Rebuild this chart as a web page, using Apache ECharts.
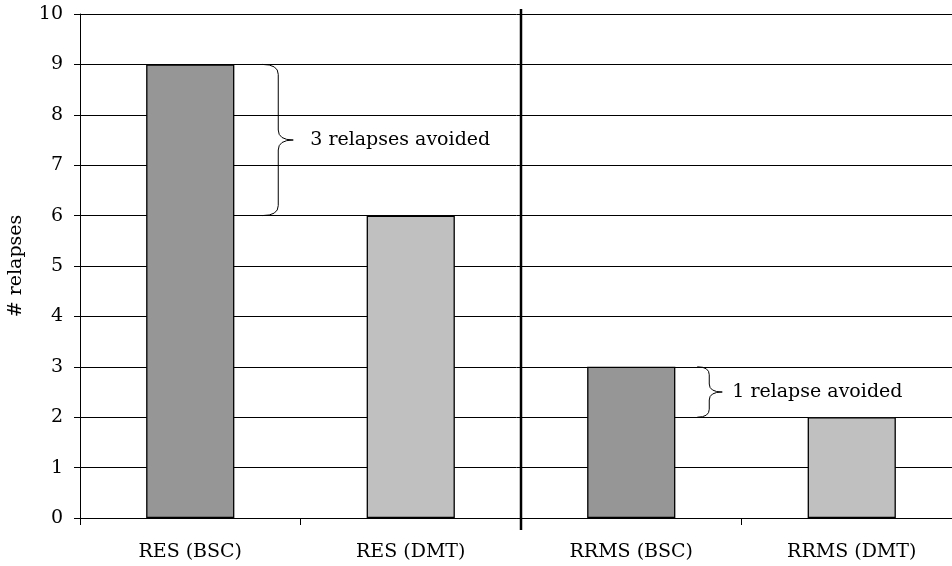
<!DOCTYPE html>
<html>
<head>
<meta charset="utf-8">
<script src="https://cdn.jsdelivr.net/npm/echarts@6/dist/echarts.min.js"></script>
<style>
  html, body { margin: 0; padding: 0; background: #fff; }
  #chart { width: 952px; height: 566px; }
</style>
</head>
<body>
<div id="chart"></div>
<script>
// Relapse counts per cohort and treatment
const categories = ['RES (BSC)', 'RES (DMT)', 'RRMS (BSC)', 'RRMS (DMT)'];
const relapses = [9, 6, 3, 2];
const yMin = 0;
const yMax = 10;
const yInterval = 1;

// Pairs compared by a brace: [BSC index, DMT index]
const comparisons = [[0, 1], [2, 3]];

// Brace placement (pixel offsets from the BSC category centre)
const braceStyle = [
  { offset: 72, depth: 16, tip: 15, radius: 10, textGap: 17 },
  { offset: 66, depth: 12, tip: 13, radius: 8, textGap: 10 }
];

const FONT = '"DejaVu Serif", serif';
const FONT_SIZE = 19;
const barColors = ['#969696', '#c0c0c0', '#969696', '#c0c0c0'];

const braceData = comparisons.map(([a, b]) => [a, relapses[a], relapses[b]]);

function avoidedText(top, bottom) {
  const d = top - bottom;
  return d + (d === 1 ? ' relapse avoided' : ' relapses avoided');
}

const chart = echarts.init(document.getElementById('chart'), null, { renderer: 'canvas' });

chart.setOption({
  animation: false,
  grid: { left: 80, width: 882, top: 14, height: 504, containLabel: false, outerBoundsMode: 'none' },
  xAxis: {
    type: 'category',
    data: categories,
    boundaryGap: true,
    axisLine: { show: true, lineStyle: { color: '#000', width: 1 } },
    axisTick: { show: true, length: 7, lineStyle: { color: '#000' } },
    axisLabel: { color: '#000', fontFamily: FONT, fontSize: FONT_SIZE, margin: 25, interval: 0 },
    splitLine: { show: false }
  },
  yAxis: {
    type: 'value',
    min: yMin,
    max: yMax,
    interval: yInterval,
    name: '# relapses',
    nameLocation: 'middle',
    nameRotate: 90,
    nameGap: 54,
    nameTextStyle: { color: '#000', fontFamily: FONT, fontSize: FONT_SIZE },
    axisLine: { show: true, lineStyle: { color: '#000', width: 1 } },
    axisTick: { show: true, length: 6, inside: false, lineStyle: { color: '#000' } },
    axisLabel: { color: '#000', fontFamily: FONT, fontSize: FONT_SIZE, margin: 17 },
    splitLine: { show: true, lineStyle: { color: '#000', width: 1 } }
  },
  series: [
    {
      type: 'bar',
      barWidth: '40%',
      data: relapses.map((v, i) => ({
        value: v,
        itemStyle: { color: barColors[i], borderColor: '#000', borderWidth: 1.3 }
      })),
      z: 3
    },
    {
      type: 'custom',
      coordinateSystem: 'cartesian2d',
      data: braceData,
      z: 4,
      renderItem: function (params, api) {
        const st = braceStyle[params.dataIndex];
        const cat = api.value(0);
        const top = api.value(1);
        const bottom = api.value(2);
        const pTop = api.coord([cat, top]);
        const pBot = api.coord([cat, bottom]);
        const x0 = pTop[0] + st.offset;
        const xv = x0 + st.depth;
        const xt = xv + st.tip;
        const yT = pTop[1];
        const yB = pBot[1];
        const yM = (yT + yB) / 2;
        const r = st.radius;
        const path =
          'M' + x0 + ' ' + yT +
          ' Q' + xv + ' ' + yT + ' ' + xv + ' ' + (yT + r) +
          ' L' + xv + ' ' + (yM - r) +
          ' Q' + xv + ' ' + yM + ' ' + xt + ' ' + yM +
          ' Q' + xv + ' ' + yM + ' ' + xv + ' ' + (yM + r) +
          ' L' + xv + ' ' + (yB - r) +
          ' Q' + xv + ' ' + yB + ' ' + x0 + ' ' + yB;
        return {
          type: 'group',
          children: [
            {
              type: 'path',
              shape: { pathData: path },
              style: { fill: null, stroke: '#000', lineWidth: 1 }
            },
            {
              type: 'text',
              style: {
                x: xt + st.textGap,
                y: yM,
                text: avoidedText(top, bottom),
                fill: '#000',
                font: FONT_SIZE + 'px ' + FONT,
                verticalAlign: 'middle',
                align: 'left'
              }
            }
          ]
        };
      }
    }
  ]
});

// Vertical divider between the RES and RRMS groups
function drawDivider() {
  const xA = chart.convertToPixel({ xAxisIndex: 0 }, 1);
  const xB = chart.convertToPixel({ xAxisIndex: 0 }, 2);
  const x = Math.round((xA + xB) / 2);
  const yTop = chart.convertToPixel({ yAxisIndex: 0 }, yMax) - 5;
  const yBot = chart.convertToPixel({ yAxisIndex: 0 }, yMin) + 12;
  chart.setOption({
    graphic: [{
      type: 'line',
      z: 10,
      shape: { x1: x, y1: yTop, x2: x, y2: yBot },
      style: { stroke: '#000', lineWidth: 2.5 }
    }]
  });
}
drawDivider();
</script>
</body>
</html>
